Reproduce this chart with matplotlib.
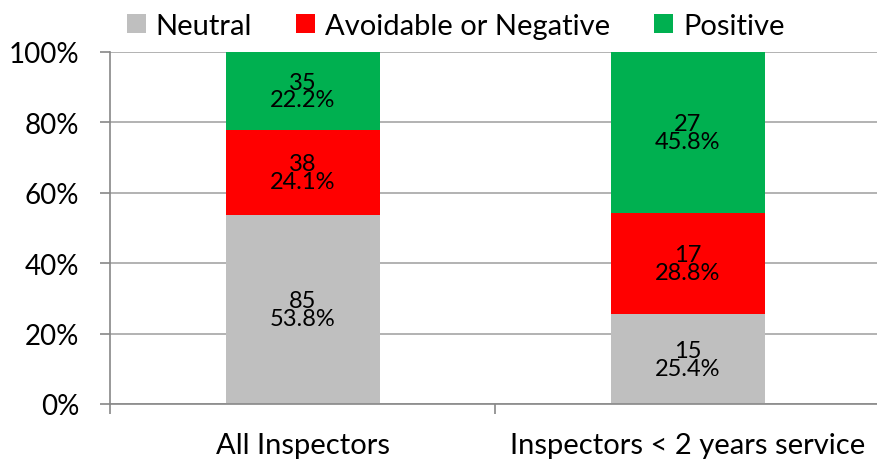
import numpy as np
import matplotlib.pyplot as plt
from matplotlib.patches import Patch

# Daten
groups = ["All Inspectors", "Inspectors < 2 years service"]
series = ["Neutral", "Avoidable or Negative", "Positive"]
neutral = [85, 15]
negative = [38, 17]
positive = [35, 27]
colors = ["#BFBFBF", "#FF0000", "#00B050"]

plt.rcParams["font.family"] = ["Lato", "DejaVu Sans"]

counts = np.array([neutral, negative, positive], dtype=float)
totals = counts.sum(axis=0)
shares = counts / totals

fig = plt.figure(figsize=(8.78, 4.6), dpi=100)
ax = fig.add_axes([0.1253, 0.1196, 0.877, 0.7652])

x = np.arange(len(groups))
bottom = np.zeros(len(groups))
for i, name in enumerate(series):
    ax.bar(x, shares[i], 0.4, bottom=bottom, color=colors[i], zorder=2)
    for j in range(len(groups)):
        ax.text(x[j], bottom[j] + shares[i][j] / 2,
                f"{int(counts[i][j])}\n{shares[i][j] * 100:.1f}%",
                ha="center", va="center", fontsize=17, linespacing=0.8, zorder=3)
    bottom += shares[i]

# Achsen
ax.set_xlim(-0.5, 1.5)
ax.set_ylim(0, 1)
ax.set_yticks(np.arange(0, 1.01, 0.2))
ax.set_yticklabels([f"{int(v * 100)}%" for v in np.arange(0, 1.01, 0.2)], fontsize=20)
ax.set_xticks(x)
ax.set_xticklabels(groups, fontsize=21)
ax.set_xticks([-0.5, 0.5, 1.5], minor=True)
ax.tick_params(axis="x", which="major", length=0, pad=20)
ax.tick_params(axis="x", which="minor", length=7, color="#888888", width=1.2)
ax.tick_params(axis="y", length=7, color="#888888", width=1.2, pad=15)
ax.grid(axis="y", color="#A6A6A6", linewidth=1.2, zorder=0)
for side in ["top", "right"]:
    ax.spines[side].set_visible(False)
for side in ["left", "bottom"]:
    ax.spines[side].set_color("#888888")
    ax.spines[side].set_linewidth(1.2)

# Legende
handles = [Patch(facecolor=c, edgecolor="none") for c in colors]
fig.legend(handles, series, loc="center", bbox_to_anchor=(0.519, 0.942), ncol=3,
           frameon=False, fontsize=21, handlelength=0.65, handleheight=0.65,
           handletextpad=0.35, columnspacing=1.5)

plt.savefig("out.png", dpi=100)
